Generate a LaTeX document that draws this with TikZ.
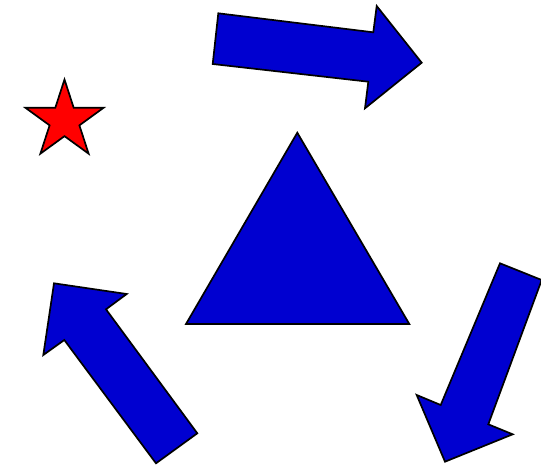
\documentclass[tikz,border=0pt]{standalone}
\usetikzlibrary{shapes.geometric}
\definecolor{arrowblue}{RGB}{0,0,208}
\begin{document}
\begin{tikzpicture}[x=1pt,y=-1pt,
  shapestyle/.style={draw=black,line width=1.7pt,line join=miter},
  bluefill/.style={shapestyle,fill=arrowblue},
  redfill/.style={shapestyle,fill=red}]
\useasboundingbox (0,0) rectangle (541,466);
% central triangle
\draw[bluefill] (297.3,132.7) -- (409.3,324) -- (186,324) -- cycle;
% top arrow
\draw[bluefill] (218.3,13.3) -- (373.3,32.3) -- (376.7,6) -- (421.7,62.7)
  -- (365,108.3) -- (368.3,81.7) -- (212.7,64) -- cycle;
% right arrow
\draw[bluefill] (500,263.3) -- (541.7,280) -- (488.3,424.3) -- (512.7,434.3)
  -- (445,461.7) -- (416.7,395) -- (440.7,405) -- cycle;
% left arrow
\draw[bluefill] (54,283.3) -- (126.7,294) -- (106,309.3) -- (197.3,433.3)
  -- (156,463.3) -- (64.3,340) -- (43.3,355) -- cycle;
% star
\node[redfill,star,star points=5,star point ratio=2.618,
  minimum size=82pt,inner sep=0pt] (star) at (64.5,120.5) {};
\end{tikzpicture}
\end{document}
